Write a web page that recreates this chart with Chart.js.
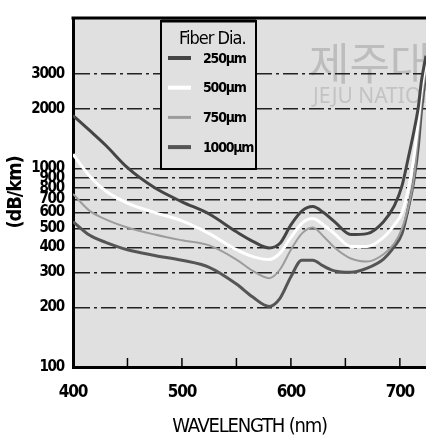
<!DOCTYPE html>
<html>
<head>
<meta charset="utf-8">
<script src="https://cdn.jsdelivr.net/npm/chart.js@4.4.1/dist/chart.umd.min.js"></script>
<style>
  html, body { margin: 0; padding: 0; background: #fff; }
  #wrap { width: 426px; height: 442px; }
</style>
</head>
<body>
<div id="wrap"><canvas id="lossChart" width="426" height="442"></canvas></div>
<script>
// Attenuation of the fibers vs. wavelength, one series per fiber diameter
const wavelengths = [400, 415, 430, 450, 475, 500, 525, 550, 565, 580, 590, 600, 610, 620, 630, 640, 655, 670, 685, 695, 702, 708, 713, 717, 720, 724];
const loss250  = [1850, 1560, 1310, 1010, 800, 680, 590, 480, 430, 398, 420, 520, 610, 643, 600, 540, 465, 470, 540, 650, 820, 1150, 1550, 2050, 2800, 3700];
const loss500  = [1180, 920, 770, 670, 600, 545, 470, 390, 360, 348, 375, 450, 530, 560, 520, 470, 405, 405, 450, 520, 600, 800, 1150, 1750, 2500, 3500];
const loss750  = [745, 614, 555, 505, 465, 435, 410, 348, 305, 280, 310, 390, 470, 505, 455, 400, 352, 340, 370, 420, 500, 650, 900, 1500, 2200, 3200];
const loss1000 = [540, 462, 425, 390, 365, 345, 318, 262, 225, 202, 222, 285, 345, 345, 322, 305, 300, 315, 350, 405, 470, 640, 880, 1300, 2000, 3000];

const fiberLabels = ['250µm', '500µm', '750µm', '1000µm'];
const legendTitle = 'Fiber Dia.';
const yTickValues = [100, 200, 300, 400, 500, 600, 700, 800, 900, 1000, 2000, 3000];
const xTickValues = [400, 500, 600, 700];
const xMinorTicks = [450, 500, 550, 600, 650, 700];

const NARROW = "'Liberation Sans Narrow', 'DejaVu Sans Condensed', sans-serif";
const PLOT_BG = '#e0e0e0';
const TIGHT = '-1.2px';

function series(values, label, color, width) {
  return {
    label: label,
    data: wavelengths.map((w, i) => ({ x: w, y: values[i] })),
    borderColor: color,
    borderWidth: width,
    pointRadius: 0,
    fill: false,
    cubicInterpolationMode: 'monotone'
  };
}

const plotDecor = {
  id: 'plotDecor',
  beforeDraw(chart) {
    const { ctx, chartArea: a } = chart;
    ctx.save();
    ctx.fillStyle = PLOT_BG;
    ctx.fillRect(a.left, a.top, a.right - a.left, a.bottom - a.top);
    // faint repository stamp behind the grid
    ctx.beginPath();
    ctx.rect(a.left, a.top, a.right - a.left, a.bottom - a.top);
    ctx.clip();
    ctx.fillStyle = 'rgba(140,140,140,0.42)';
    ctx.font = "44px 'Noto Sans CJK KR'";
    ctx.textBaseline = 'alphabetic';
    ctx.fillText('제주대학교', 309, 80);
    ctx.fillStyle = 'rgba(160,160,160,0.45)';
    ctx.font = "21px 'Noto Sans'";
    ctx.fillText('JEJU NATIONAL UNIVERSITY', 313, 103);
    ctx.restore();
    // condensed look for the axis lettering drawn after this hook
    ctx.letterSpacing = TIGHT;
  },
  afterDraw(chart) {
    const { ctx, chartArea: a, scales } = chart;
    ctx.save();
    // top frame line
    ctx.strokeStyle = '#000';
    ctx.lineWidth = 3;
    ctx.beginPath();
    ctx.moveTo(a.left - 1.5, a.top);
    ctx.lineTo(a.right, a.top);
    ctx.stroke();
    // inner tick marks along the wavelength axis
    ctx.lineWidth = 1.5;
    xMinorTicks.forEach(v => {
      const px = scales.x.getPixelForValue(v);
      ctx.beginPath();
      ctx.moveTo(px, a.bottom);
      ctx.lineTo(px, a.bottom - 9);
      ctx.stroke();
    });

    // legend box
    const bx = 161, by = 21, bw = 95, bh = 148;
    ctx.fillStyle = PLOT_BG;
    ctx.fillRect(bx, by, bw, bh);
    ctx.strokeStyle = '#000';
    ctx.lineWidth = 2;
    ctx.strokeRect(bx, by, bw, bh);
    ctx.lineWidth = 3;
    ctx.beginPath();
    ctx.moveTo(bx, by);
    ctx.lineTo(bx + bw, by);
    ctx.stroke();

    ctx.fillStyle = '#000';
    ctx.textBaseline = 'middle';
    ctx.textAlign = 'left';
    ctx.letterSpacing = '-1px';
    ctx.font = '18px ' + NARROW;
    ctx.fillText(legendTitle, 179, 39);

    ctx.letterSpacing = '-1.2px';
    ctx.font = 'bold 14px ' + NARROW;
    chart.data.datasets.forEach((ds, i) => {
      const y = 58 + i * 29.7;
      ctx.strokeStyle = ds.borderColor;
      ctx.lineWidth = ds.borderWidth + 1;
      ctx.beginPath();
      ctx.moveTo(168, y);
      ctx.lineTo(191, y);
      ctx.stroke();
      ctx.fillText(ds.label, 203, y + 1);
    });
    ctx.restore();
    ctx.letterSpacing = '0px';
  }
};

new Chart(document.getElementById('lossChart'), {
  type: 'line',
  data: {
    datasets: [
      series(loss250, fiberLabels[0], '#454545', 3),
      series(loss500, fiberLabels[1], '#ffffff', 3),
      series(loss750, fiberLabels[2], '#9c9c9c', 2),
      series(loss1000, fiberLabels[3], '#555555', 3)
    ]
  },
  options: {
    responsive: false,
    animation: false,
    layout: { padding: { top: 10, left: 0, right: 0, bottom: 0 } },
    plugins: {
      legend: { display: false },
      tooltip: { enabled: false }
    },
    scales: {
      x: {
        type: 'linear',
        min: 400,
        max: 724,
        afterBuildTicks: s => { s.ticks = xTickValues.map(v => ({ value: v })); },
        afterFit: s => {
          s.height = 75;
          // plot runs right up to the canvas edge
          s.paddingLeft = 0;
          s.paddingRight = 0;
        },
        grid: { display: false, drawTicks: false },
        border: { color: '#000', width: 3 },
        ticks: {
          autoSkip: false,
          maxRotation: 0,
          padding: 15,
          color: '#000',
          font: { family: NARROW, size: 17, weight: 'bold' },
          callback: v => String(v)
        },
        title: {
          display: true,
          text: 'WAVELENGTH (nm)',
          color: '#000',
          font: { family: NARROW, size: 20 },
          padding: { top: 0, bottom: 3 }
        }
      },
      y: {
        type: 'logarithmic',
        min: 100,
        max: 5736,
        afterBuildTicks: s => { s.ticks = yTickValues.map(v => ({ value: v })); },
        afterFit: s => { s.width = 73; },
        grid: {
          drawTicks: false,
          lineWidth: 1.5,
          color: c => (c.tick && c.tick.value === 100) ? 'rgba(0,0,0,0)' : '#222'
        },
        border: { color: '#000', width: 3, dash: [15, 4, 3, 4] },
        ticks: {
          autoSkip: false,
          padding: 9,
          color: '#000',
          font: { family: NARROW, size: 15, weight: 'bold' },
          callback: v => String(v)
        },
        title: {
          display: true,
          text: '(dB/km)',
          color: '#000',
          font: { family: NARROW, size: 20, weight: 'bold' },
          padding: { top: 4, bottom: 0 }
        }
      }
    }
  },
  plugins: [plotDecor]
});
</script>
</body>
</html>
